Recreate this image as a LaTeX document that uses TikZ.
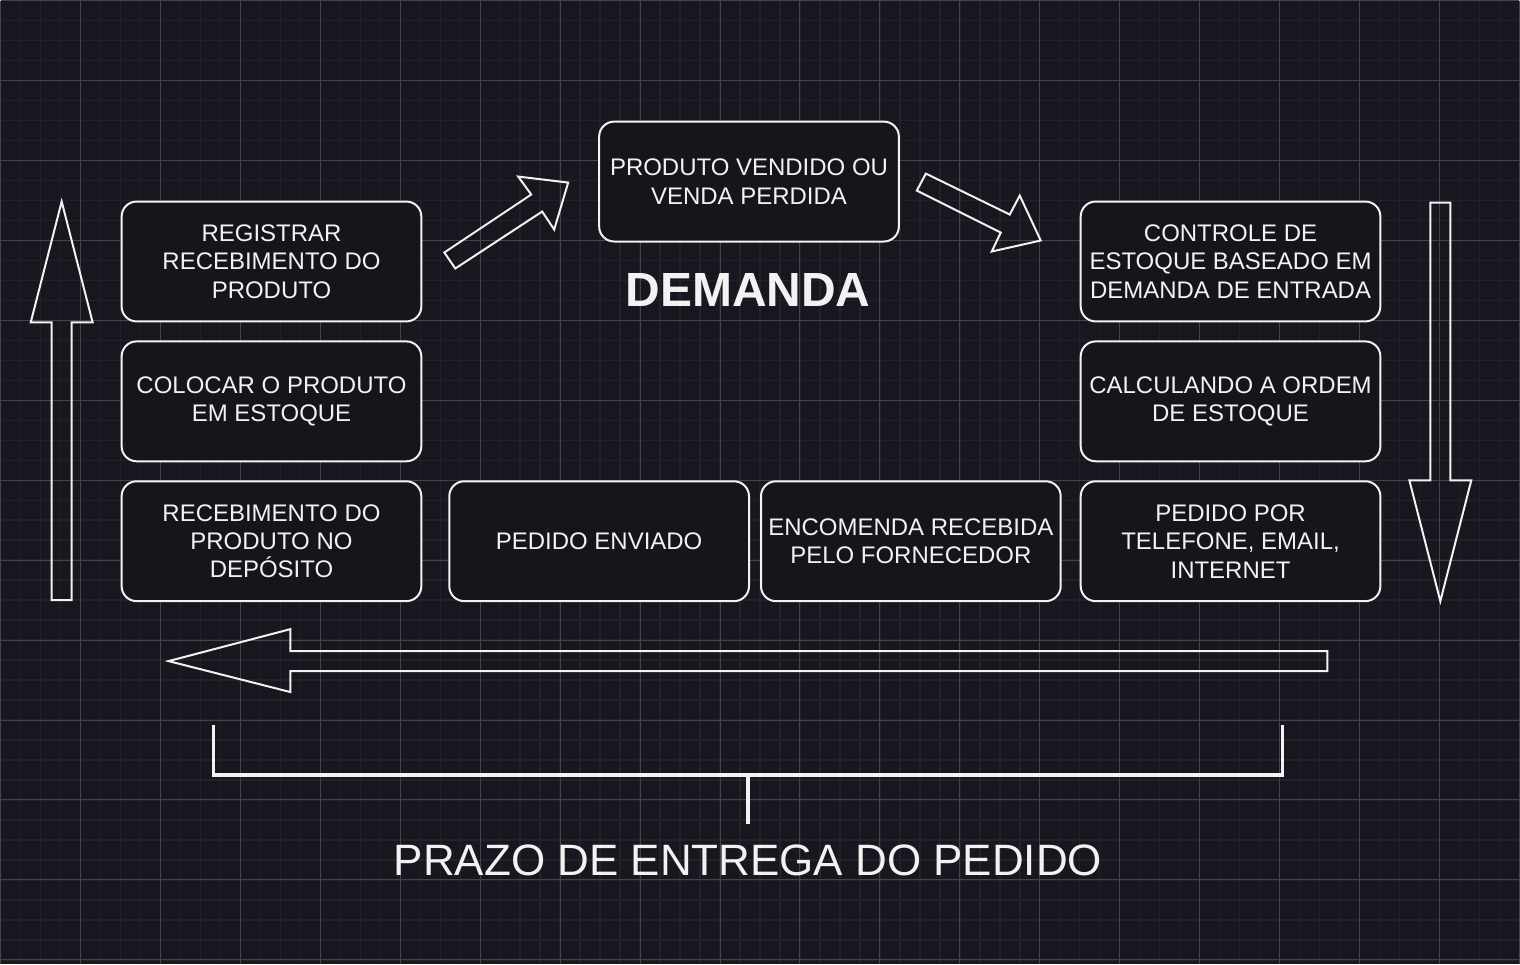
\documentclass[tikz,border=0pt]{standalone}
\usepackage{fontspec}
\setmainfont{Liberation Sans}
\definecolor{canvas}{HTML}{18161E}
\definecolor{gridminor}{HTML}{232129}
\definecolor{gridmajor}{HTML}{45444A}
\definecolor{boxfill}{HTML}{17151C}
\definecolor{ink}{HTML}{F2F2F2}
\tikzset{
  stagebox/.style={draw=ink, line width=2, rounded corners=15, fill=boxfill,
    minimum width=300, minimum height=120, align=center, text=ink,
    font=\fontsize{24}{28.5}\selectfont},
  blockarrow/.style={draw=ink, line width=2},
  bracketline/.style={draw=ink, line width=3.5}
}

\begin{document}
\begin{tikzpicture}[x=1pt, y=-1pt]
% Background and grid
    \fill[canvas] (0,0) rectangle (1520,964);
    \foreach \x in {0,20,...,1520} \draw[gridminor, line width=1.5] (\x,0) -- (\x,964);
    \foreach \y in {0,20,...,960} \draw[gridminor, line width=1.5] (0,\y) -- (1520,\y);
    \foreach \x in {0,80,...,1520} \draw[gridmajor, line width=1] (\x,0) -- (\x,964);
    \foreach \y in {0,80,...,960} \draw[gridmajor, line width=1] (0,\y) -- (1520,\y);
% Stages
    \node[stagebox] (vendido) at (749,181) {PRODUTO VENDIDO OU\\VENDA PERDIDA};
    \node[stagebox] (controle) at (1231,261) {CONTROLE DE\\ESTOQUE BASEADO EM\\DEMANDA DE ENTRADA};
    \node[stagebox] (calculo) at (1231,401) {CALCULANDO A ORDEM\\DE ESTOQUE};
    \node[stagebox] (pedido) at (1231,541) {PEDIDO POR\\TELEFONE, EMAIL,\\INTERNET};
    \node[stagebox] (encomenda) at (911,541) {ENCOMENDA RECEBIDA\\PELO FORNECEDOR};
    \node[stagebox] (enviado) at (599,541) {PEDIDO ENVIADO};
    \node[stagebox] (deposito) at (271,541) {RECEBIMENTO DO\\PRODUTO NO\\DEPÓSITO};
    \node[stagebox] (colocar) at (271,401) {COLOCAR O PRODUTO\\EM ESTOQUE};
    \node[stagebox] (registrar) at (271,261) {REGISTRAR\\RECEBIMENTO DO\\PRODUTO};
% Titles
    \node[text=ink, font=\bfseries\fontsize{48}{48}\selectfont] (demanda) at (748,290) {DEMANDA};
    \node[text=ink, font=\fontsize{44}{44}\selectfont] (prazo) at (748,860) {PRAZO DE ENTREGA DO PEDIDO};
% Block arrows
    \draw[blockarrow] (61,201) -- (92,322) -- (71,322) -- (71,600) -- (51,600) -- (51,322) -- (30,322) -- cycle;
    \draw[blockarrow] (444,252) -- (531,194) -- (518,176) -- (568,182) -- (554,229) -- (542,211) -- (455,268) -- cycle;
    \draw[blockarrow] (926,173) -- (1010,214) -- (1020,195) -- (1041,240) -- (992,251) -- (1001,232) -- (917,190) -- cycle;
    \draw[blockarrow] (1431,202) -- (1451,202) -- (1451,480) -- (1472,480) -- (1441,601) -- (1410,480) -- (1431,480) -- cycle;
    \draw[blockarrow] (168,661) -- (290,629) -- (290,651) -- (1328,651) -- (1328,671) -- (290,671) -- (290,692) -- cycle;
% Lead time bracket
    \draw[bracketline] (213,725) -- (213,775) -- (1283,775) -- (1283,725);
    \draw[bracketline] (748,775) -- (748,824);
\end{tikzpicture}
\end{document}
